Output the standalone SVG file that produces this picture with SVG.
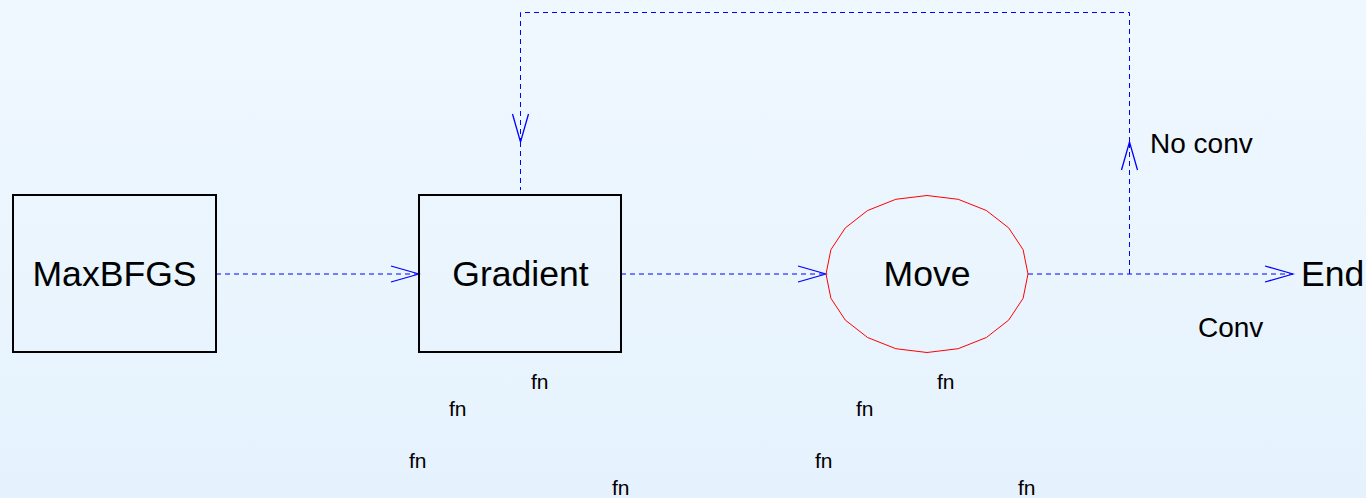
<svg xmlns="http://www.w3.org/2000/svg" width="1366" height="498" viewBox="0 0 1366 498">
  <style>
    .box { fill: none; stroke: #000; stroke-width: 2; }
    .oval { fill: none; stroke: #ff0000; stroke-width: 1; }
    .big { font-family: "Liberation Sans", Arial, sans-serif; font-size: 35.6px; fill: #000; }
    .lbl { font-family: "Liberation Sans", Arial, sans-serif; font-size: 28px; fill: #000; }
    .fn { font-family: "Liberation Sans", Arial, sans-serif; font-size: 21px; fill: #000; }
    .edge { fill: none; stroke: #0000ff; stroke-width: 1; stroke-dasharray: 5 4; marker-end: url(#vee); }
    .plain { fill: none; stroke: #0000ff; stroke-width: 1; stroke-dasharray: 5 4; }
  </style>
  <defs>
    <linearGradient id="bg" x1="0" y1="0" x2="0" y2="1">
      <stop offset="0" stop-color="#f0f8ff"/>
      <stop offset="1" stop-color="#e5f2fd"/>
    </linearGradient>
    <marker id="vee" markerUnits="userSpaceOnUse" markerWidth="32" markerHeight="20" viewBox="-30 -10 32 20" refX="0" refY="0" orient="auto">
      <path d="M-28,-8 L0,0 L-28,8" fill="none" stroke="#0000ff" stroke-width="1.3"/>
    </marker>
  </defs>

  <rect width="1366" height="498" fill="url(#bg)"/>

  <!-- connectors -->
  <g id="connectors">
    <path class="edge" d="M216,274 H419"/>
    <path class="edge" d="M621,274 H826"/>
    <path class="edge" d="M1028,274 H1293"/>
    <!-- loop back from the exit branch to Gradient -->
    <path class="edge" d="M1129.5,274 V142"/>
    <path class="edge" d="M1129.5,142 V12.5 H520.5 V142"/>
    <path class="plain" d="M520.5,142 V190"/>
  </g>

  <g id="node-maxbfgs">
    <rect class="box" x="13" y="195" width="203" height="157"/>
    <text class="big" x="114.5" y="286" text-anchor="middle">MaxBFGS</text>
  </g>

  <g id="node-gradient">
    <rect class="box" x="419" y="195" width="202" height="157"/>
    <text class="big" x="520.5" y="286" text-anchor="middle">Gradient</text>
  </g>

  <g id="node-move">
    <polygon class="oval" points="1028,274 1023.1,249.7 1008.7,227.9 986.4,210.5 958.2,199.3 927,195.5 895.8,199.3 867.6,210.5 845.3,227.9 830.9,249.7 826,274 830.9,298.3 845.3,320.1 867.6,337.5 895.8,348.7 927,352.5 958.2,348.7 986.4,337.5 1008.7,320.1 1023.1,298.3"/>
    <text class="big" x="927" y="286" text-anchor="middle">Move</text>
  </g>

  <g id="node-end">
    <text class="big" x="1301" y="286">End</text>
  </g>

  <g id="edge-labels">
    <text class="lbl" x="1150" y="153">No conv</text>
    <text class="lbl" x="1198" y="337">Conv</text>
  </g>

  <g id="fn-labels">
    <text class="fn" x="531" y="389">fn</text>
    <text class="fn" x="449" y="416">fn</text>
    <text class="fn" x="409" y="468">fn</text>
    <text class="fn" x="612" y="495">fn</text>
    <text class="fn" x="937" y="389">fn</text>
    <text class="fn" x="856" y="416">fn</text>
    <text class="fn" x="815" y="468">fn</text>
    <text class="fn" x="1018" y="495">fn</text>
  </g>
</svg>
